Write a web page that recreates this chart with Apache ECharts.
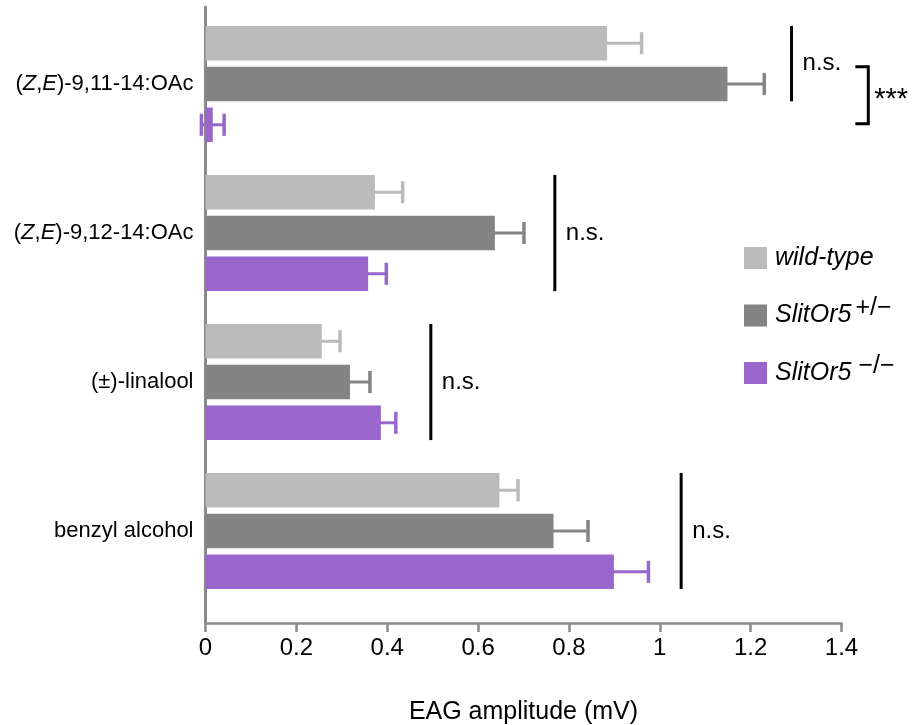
<!DOCTYPE html>
<html><head><meta charset="utf-8">
<script src="https://cdn.jsdelivr.net/npm/echarts@6/dist/echarts.min.js"></script>
<style>html,body{margin:0;padding:0;background:#fff}#c{width:918px;height:725px}</style>
</head><body><div id="c"></div>
<script>
// ---------- data ----------
const categories = ['(Z,E)-9,11-14:OAc', '(Z,E)-9,12-14:OAc', '(±)-linalool', 'benzyl alcohol'];
const seriesNames = ['wild-type', 'SlitOr5 +/−', 'SlitOr5 −/−'];
const wildType   = [0.884, 0.373, 0.256, 0.647];
const wildTypeSE = [0.076, 0.061, 0.040, 0.041];
const het        = [1.149, 0.637, 0.318, 0.766];
const hetSE      = [0.081, 0.064, 0.044, 0.076];
const ko         = [0.016, 0.358, 0.386, 0.899];
const koSE       = [0.025, 0.040, 0.033, 0.076];
const xMin = 0, xMax = 1.4, xStep = 0.2;
const xTitle = 'EAG amplitude (mV)';
// significance annotations: x of bracket line, group, first bar, last bar, text
const sigX     = [1.290, 0.769, 0.496, 1.047];
const sigGroup = [0, 1, 2, 3];
const sigFrom  = [0, 0, 0, 0];
const sigTo    = [1, 2, 2, 2];
const sigText  = ['n.s.', 'n.s.', 'n.s.', 'n.s.'];
const starX = [1.459], starGroup = [0], starText = ['***'];

// ---------- style ----------
const FONT = 'Liberation Sans, Arial, Helvetica, sans-serif';
const colors = ['#bbbbbb', '#848484', '#9966cc'];
const BAR_FRAC = 0.232, GAP_FRAC = 0.18;
const AXIS_COLOR = '#8a8a8a';

const values = [wildType, het, ko];
const ses = [wildTypeSE, hetSE, koSE];

function barCenterY(api, cat, idx) {
  const c = api.coord([0, cat]);
  const band = api.size([0, 1])[1];
  const bw = band * BAR_FRAC;
  const step = bw * (1 + GAP_FRAC);
  return { y: c[1] + (idx - 1) * step, bw: bw };
}

const barSeries = values.map((vals, i) => ({
  name: seriesNames[i], type: 'bar', xAxisIndex: 0, yAxisIndex: 0,
  data: vals, barWidth: (BAR_FRAC * 100) + '%', barGap: (GAP_FRAC * 100) + '%',
  itemStyle: { color: colors[i] }, z: 3, silent: true
}));

const errSeries = values.map((vals, i) => ({
  type: 'custom', xAxisIndex: 0, yAxisIndex: 0, z: 1, silent: true,
  data: vals.map((v, k) => [v, ses[i][k], k]),
  encode: { x: 0, y: 2 },
  renderItem: function (params, api) {
    const v = api.value(0), se = api.value(1), cat = api.value(2);
    const b = barCenterY(api, cat, i);
    const x1 = api.coord([v - se, cat])[0];
    const x2 = api.coord([v + se, cat])[0];
    const h = b.bw * 0.32;
    const st = { stroke: colors[i], lineWidth: 3 };
    return { type: 'group', children: [
      { type: 'line', shape: { x1: x1, y1: b.y, x2: x2, y2: b.y }, style: st },
      { type: 'line', shape: { x1: x1, y1: b.y - h, x2: x1, y2: b.y + h }, style: { stroke: colors[i], lineWidth: 3.5 } },
      { type: 'line', shape: { x1: x2, y1: b.y - h, x2: x2, y2: b.y + h }, style: { stroke: colors[i], lineWidth: 3.5 } }
    ]};
  }
}));

const sigSeries = {
  type: 'custom', xAxisIndex: 0, yAxisIndex: 0, z: 4, silent: true, clip: false,
  data: sigX.map((x, k) => [x, sigGroup[k], sigFrom[k], sigTo[k], k]),
  encode: { x: 0, y: 1 },
  renderItem: function (params, api) {
    const x = api.value(0), cat = api.value(1);
    const a = barCenterY(api, cat, api.value(2));
    const b = barCenterY(api, cat, api.value(3));
    const px = api.coord([x, cat])[0];
    const y1 = a.y - a.bw / 2, y2 = b.y + b.bw / 2;
    return { type: 'group', children: [
      { type: 'line', shape: { x1: px, y1: y1, x2: px, y2: y2 }, style: { stroke: '#000', lineWidth: 3 } },
      { type: 'text', style: { text: sigText[api.value(4)], x: px + 11, y: (y1 + y2) / 2, verticalAlign: 'middle', align: 'left', fontSize: 24, fontFamily: FONT, fill: '#000' } }
    ]};
  }
};

const starSeries = {
  type: 'custom', xAxisIndex: 0, yAxisIndex: 0, z: 4, silent: true, clip: false,
  data: starX.map((x, k) => [x, starGroup[k], k]),
  encode: { x: 0, y: 1 },
  renderItem: function (params, api) {
    const x = api.value(0), cat = api.value(1);
    const a = barCenterY(api, cat, 1);
    const b = barCenterY(api, cat, 2);
    const px = api.coord([x, cat])[0];
    const y1 = a.y - a.bw / 2, y2 = b.y - 1;
    const arm = 13;
    return { type: 'group', children: [
      { type: 'polyline', shape: { points: [[px - arm, y1], [px, y1], [px, y2], [px - arm, y2]] }, style: { stroke: '#000', lineWidth: 3, fill: null } },
      { type: 'text', style: { text: starText[api.value(2)], x: px + 6, y: (y1 + y2) / 2 + 5, verticalAlign: 'middle', align: 'left', fontSize: 29, fontFamily: FONT, fill: '#000' } }
    ]};
  }
};

const legendLabels = {
  'wild-type': '{i|wild-type}',
  'SlitOr5 +/−': '{i|SlitOr5}{sup|+/−}',
  'SlitOr5 −/−': '{i|SlitOr5}{sup2|−/−}'
};

const chart = echarts.init(document.getElementById('c'), null, { renderer: 'canvas' });
chart.setOption({
  animation: false,
  backgroundColor: '#fff',
  textStyle: { fontFamily: FONT },
  grid: [
    { left: 205.5, top: 9.5, width: 636, height: 596, containLabel: false, outerBoundsMode: 'none' },
    { left: 205.5, top: 7, width: 636, height: 616, containLabel: false, outerBoundsMode: 'none' }
  ],
  xAxis: [
    { gridIndex: 0, type: 'value', min: xMin, max: xMax, interval: xStep, show: false },
    { gridIndex: 1, type: 'value', min: xMin, max: xMax, interval: xStep,
      axisLine: { show: true, lineStyle: { color: AXIS_COLOR, width: 2.5 } },
      axisTick: { show: true, length: 9, lineStyle: { color: AXIS_COLOR, width: 2.5 } },
      axisLabel: { fontSize: 24, color: '#000', margin: 13, fontFamily: FONT },
      splitLine: { show: false },
      name: xTitle, nameLocation: 'middle', nameGap: 77,
      nameTextStyle: { fontSize: 25, color: '#000', fontFamily: FONT } }
  ],
  yAxis: [
    { gridIndex: 0, type: 'category', data: categories, inverse: true,
      axisLine: { show: false }, axisTick: { show: false },
      axisLabel: { fontSize: 22, color: '#000', margin: 12, fontFamily: FONT,
        formatter: v => v.replace('(Z,E)', '({it|Z},{it|E})'),
        rich: { it: { fontStyle: 'italic', fontSize: 22, fontFamily: FONT, color: '#000' } } } },
    { gridIndex: 1, type: 'value', min: 0, max: 1,
      axisLine: { show: true, onZero: false, lineStyle: { color: AXIS_COLOR, width: 3 } },
      axisTick: { show: false }, axisLabel: { show: false }, splitLine: { show: false } }
  ],
  legend: {
    orient: 'vertical', left: 739, top: 240.5, itemWidth: 23, itemHeight: 22, itemGap: 25.5,
    icon: 'rect', selectedMode: false, data: seriesNames,
    formatter: n => legendLabels[n],
    textStyle: { fontSize: 25, color: '#000', fontFamily: FONT,
      rich: {
        i: { fontSize: 25, fontStyle: 'italic', fontFamily: FONT, color: '#000', lineHeight: 39, verticalAlign: 'middle', padding: [0, 0, 0, 3] },
        sup: { fontSize: 25, fontFamily: FONT, color: '#000', lineHeight: 24, verticalAlign: 'top', padding: [0, 0, 0, 4] },
        sup2: { fontSize: 25, fontFamily: FONT, color: '#000', lineHeight: 24, verticalAlign: 'top', padding: [0, 0, 0, 7] }
      } }
  },
  series: [...errSeries, ...barSeries, sigSeries, starSeries]
});
</script></body></html>
